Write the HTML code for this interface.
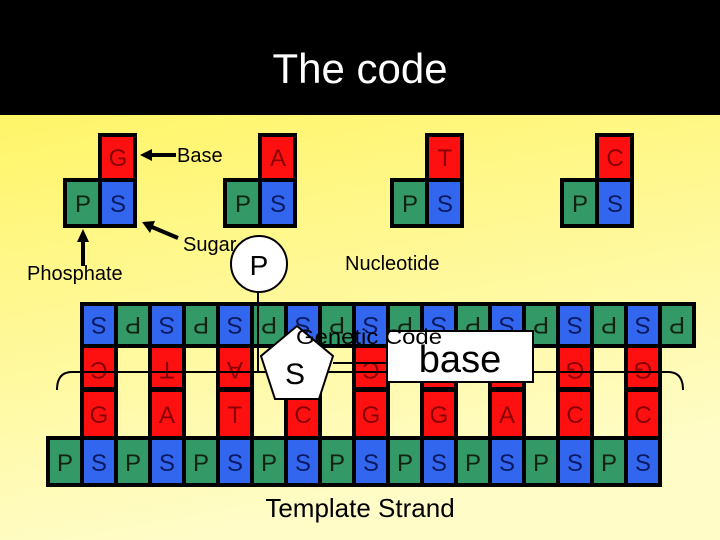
<!DOCTYPE html>
<html><head><meta charset="utf-8"><style>
html,body{margin:0;padding:0;width:720px;height:540px;overflow:hidden;}
svg text{font-family:"Liberation Sans",Arial,sans-serif;}
</style></head><body>
<svg width="720" height="540" viewBox="0 0 720 540" xmlns="http://www.w3.org/2000/svg">
<defs>
<linearGradient id="bg" x1="0" y1="0" x2="0.25" y2="1">
<stop offset="0" stop-color="#FFF350"/><stop offset="1" stop-color="#FFFCC8"/>
</linearGradient>
</defs>
<rect width="720" height="540" fill="url(#bg)"/>
<rect width="720" height="115" fill="#000"/>
<text x="360" y="83" font-size="42" fill="#fff" text-anchor="middle">The code</text>

<g font-size="24" text-anchor="middle">
<g transform="translate(63,0)">
<rect x="35" y="133" width="39" height="50" fill="#000"/><rect x="0" y="178" width="74" height="50" fill="#000"/>
<rect x="39" y="137" width="31" height="41" fill="#FF1010"/><rect x="4" y="182" width="31" height="42" fill="#339966"/><rect x="39" y="182" width="31" height="42" fill="#3366EE"/>
<text x="55" y="166" fill="#800">G</text><text x="20" y="212" fill="#112211">P</text><text x="55" y="212" fill="#0a1a60">S</text></g>
<g transform="translate(223,0)">
<rect x="35" y="133" width="39" height="50" fill="#000"/><rect x="0" y="178" width="74" height="50" fill="#000"/>
<rect x="39" y="137" width="31" height="41" fill="#FF1010"/><rect x="4" y="182" width="31" height="42" fill="#339966"/><rect x="39" y="182" width="31" height="42" fill="#3366EE"/>
<text x="55" y="166" fill="#800">A</text><text x="20" y="212" fill="#112211">P</text><text x="55" y="212" fill="#0a1a60">S</text></g>
<g transform="translate(390,0)">
<rect x="35" y="133" width="39" height="50" fill="#000"/><rect x="0" y="178" width="74" height="50" fill="#000"/>
<rect x="39" y="137" width="31" height="41" fill="#FF1010"/><rect x="4" y="182" width="31" height="42" fill="#339966"/><rect x="39" y="182" width="31" height="42" fill="#3366EE"/>
<text x="55" y="166" fill="#800">T</text><text x="20" y="212" fill="#112211">P</text><text x="55" y="212" fill="#0a1a60">S</text></g>
<g transform="translate(560,0)">
<rect x="35" y="133" width="39" height="50" fill="#000"/><rect x="0" y="178" width="74" height="50" fill="#000"/>
<rect x="39" y="137" width="31" height="41" fill="#FF1010"/><rect x="4" y="182" width="31" height="42" fill="#339966"/><rect x="39" y="182" width="31" height="42" fill="#3366EE"/>
<text x="55" y="166" fill="#800">C</text><text x="20" y="212" fill="#112211">P</text><text x="55" y="212" fill="#0a1a60">S</text></g>
</g>

<g font-size="20" fill="#000">
<text x="177" y="162">Base</text>
<text x="183" y="251">Sugar</text>
<text x="27" y="280">Phosphate</text>
<text x="345" y="270">Nucleotide</text>
</g>
<g stroke="#000" stroke-width="4" fill="#000">
<line x1="176" y1="155" x2="150" y2="155"/><polygon points="140,155 152,149 152,161" stroke="none"/>
<line x1="178" y1="238" x2="152" y2="227"/><polygon points="142,222 155,221 150,233" stroke="none"/>
<line x1="83" y1="266" x2="83" y2="240"/><polygon points="83,229 77,242 89,242" stroke="none"/>
</g>

<rect x="80" y="302" width="616" height="46" fill="#000"/>
<rect x="46" y="436" width="616" height="51" fill="#000"/>
<g>
<rect x="84" y="306" width="30" height="38" fill="#3366EE"/><rect x="118" y="306" width="30" height="38" fill="#339966"/>
<rect x="152" y="306" width="30" height="38" fill="#3366EE"/><rect x="186" y="306" width="30" height="38" fill="#339966"/>
<rect x="220" y="306" width="30" height="38" fill="#3366EE"/><rect x="254" y="306" width="30" height="38" fill="#339966"/>
<rect x="288" y="306" width="30" height="38" fill="#3366EE"/><rect x="322" y="306" width="30" height="38" fill="#339966"/>
<rect x="356" y="306" width="30" height="38" fill="#3366EE"/><rect x="390" y="306" width="30" height="38" fill="#339966"/>
<rect x="424" y="306" width="30" height="38" fill="#3366EE"/><rect x="458" y="306" width="30" height="38" fill="#339966"/>
<rect x="492" y="306" width="30" height="38" fill="#3366EE"/><rect x="526" y="306" width="30" height="38" fill="#339966"/>
<rect x="560" y="306" width="30" height="38" fill="#3366EE"/><rect x="594" y="306" width="30" height="38" fill="#339966"/>
<rect x="628" y="306" width="30" height="38" fill="#3366EE"/><rect x="662" y="306" width="30" height="38" fill="#339966"/>
</g>
<g font-size="24" text-anchor="middle">
<text x="99" y="333" fill="#0a1a60" transform="rotate(180 99 325)">S</text>
<text x="133" y="333" fill="#112211" transform="rotate(180 133 325)">P</text>
<text x="167" y="333" fill="#0a1a60" transform="rotate(180 167 325)">S</text>
<text x="201" y="333" fill="#112211" transform="rotate(180 201 325)">P</text>
<text x="235" y="333" fill="#0a1a60" transform="rotate(180 235 325)">S</text>
<text x="269" y="333" fill="#112211" transform="rotate(180 269 325)">P</text>
<text x="303" y="333" fill="#0a1a60" transform="rotate(180 303 325)">S</text>
<text x="337" y="333" fill="#112211" transform="rotate(180 337 325)">P</text>
<text x="371" y="333" fill="#0a1a60" transform="rotate(180 371 325)">S</text>
<text x="405" y="333" fill="#112211" transform="rotate(180 405 325)">P</text>
<text x="439" y="333" fill="#0a1a60" transform="rotate(180 439 325)">S</text>
<text x="473" y="333" fill="#112211" transform="rotate(180 473 325)">P</text>
<text x="507" y="333" fill="#0a1a60" transform="rotate(180 507 325)">S</text>
<text x="541" y="333" fill="#112211" transform="rotate(180 541 325)">P</text>
<text x="575" y="333" fill="#0a1a60" transform="rotate(180 575 325)">S</text>
<text x="609" y="333" fill="#112211" transform="rotate(180 609 325)">P</text>
<text x="643" y="333" fill="#0a1a60" transform="rotate(180 643 325)">S</text>
<text x="677" y="333" fill="#112211" transform="rotate(180 677 325)">P</text>
</g>

<g fill="#000">
<rect x="80" y="344" width="38" height="96"/><rect x="148" y="344" width="38" height="96"/>
<rect x="216" y="344" width="38" height="96"/><rect x="284" y="344" width="38" height="96"/>
<rect x="352" y="344" width="38" height="96"/><rect x="420" y="344" width="38" height="96"/>
<rect x="488" y="344" width="38" height="96"/><rect x="556" y="344" width="38" height="96"/>
<rect x="624" y="344" width="38" height="96"/>
</g>
<g fill="#FF1010">
<rect x="84" y="348" width="30" height="39"/><rect x="84" y="392" width="30" height="44"/>
<rect x="152" y="348" width="30" height="39"/><rect x="152" y="392" width="30" height="44"/>
<rect x="220" y="348" width="30" height="39"/><rect x="220" y="392" width="30" height="44"/>
<rect x="288" y="348" width="30" height="39"/><rect x="288" y="392" width="30" height="44"/>
<rect x="356" y="348" width="30" height="39"/><rect x="356" y="392" width="30" height="44"/>
<rect x="424" y="348" width="30" height="39"/><rect x="424" y="392" width="30" height="44"/>
<rect x="492" y="348" width="30" height="39"/><rect x="492" y="392" width="30" height="44"/>
<rect x="560" y="348" width="30" height="39"/><rect x="560" y="392" width="30" height="44"/>
<rect x="628" y="348" width="30" height="39"/><rect x="628" y="392" width="30" height="44"/>
</g>
<g font-size="24" text-anchor="middle" fill="#800">
<text x="99" y="378" transform="rotate(180 99 370)">C</text>
<text x="167" y="378" transform="rotate(180 167 370)">T</text>
<text x="235" y="378" transform="rotate(180 235 370)">A</text>
<text x="371" y="378" transform="rotate(180 371 370)">C</text>
<text x="575" y="378" transform="rotate(180 575 370)">G</text>
<text x="643" y="378" transform="rotate(180 643 370)">G</text>
<text x="99" y="423">G</text><text x="167" y="423">A</text><text x="235" y="423">T</text>
<text x="303" y="423">C</text><text x="371" y="423">G</text><text x="439" y="423">G</text>
<text x="507" y="423">A</text><text x="575" y="423">C</text><text x="643" y="423">C</text>
</g>

<g>
<rect x="50" y="440" width="30" height="43" fill="#339966"/><rect x="84" y="440" width="30" height="43" fill="#3366EE"/>
<rect x="118" y="440" width="30" height="43" fill="#339966"/><rect x="152" y="440" width="30" height="43" fill="#3366EE"/>
<rect x="186" y="440" width="30" height="43" fill="#339966"/><rect x="220" y="440" width="30" height="43" fill="#3366EE"/>
<rect x="254" y="440" width="30" height="43" fill="#339966"/><rect x="288" y="440" width="30" height="43" fill="#3366EE"/>
<rect x="322" y="440" width="30" height="43" fill="#339966"/><rect x="356" y="440" width="30" height="43" fill="#3366EE"/>
<rect x="390" y="440" width="30" height="43" fill="#339966"/><rect x="424" y="440" width="30" height="43" fill="#3366EE"/>
<rect x="458" y="440" width="30" height="43" fill="#339966"/><rect x="492" y="440" width="30" height="43" fill="#3366EE"/>
<rect x="526" y="440" width="30" height="43" fill="#339966"/><rect x="560" y="440" width="30" height="43" fill="#3366EE"/>
<rect x="594" y="440" width="30" height="43" fill="#339966"/><rect x="628" y="440" width="30" height="43" fill="#3366EE"/>
</g>
<g font-size="24" text-anchor="middle">
<text x="65" y="471" fill="#112211">P</text><text x="99" y="471" fill="#0a1a60">S</text>
<text x="133" y="471" fill="#112211">P</text><text x="167" y="471" fill="#0a1a60">S</text>
<text x="201" y="471" fill="#112211">P</text><text x="235" y="471" fill="#0a1a60">S</text>
<text x="269" y="471" fill="#112211">P</text><text x="303" y="471" fill="#0a1a60">S</text>
<text x="337" y="471" fill="#112211">P</text><text x="371" y="471" fill="#0a1a60">S</text>
<text x="405" y="471" fill="#112211">P</text><text x="439" y="471" fill="#0a1a60">S</text>
<text x="473" y="471" fill="#112211">P</text><text x="507" y="471" fill="#0a1a60">S</text>
<text x="541" y="471" fill="#112211">P</text><text x="575" y="471" fill="#0a1a60">S</text>
<text x="609" y="471" fill="#112211">P</text><text x="643" y="471" fill="#0a1a60">S</text>
</g>

<path d="M57,390 Q57,372 72,372 L668,372 Q683,372 683,390" fill="none" stroke="#000" stroke-width="2"/>

<line x1="258" y1="290" x2="258" y2="372" stroke="#000" stroke-width="2"/>
<circle cx="259" cy="264" r="28" fill="#fff" stroke="#000" stroke-width="2"/>
<text x="259" y="275" font-size="28" text-anchor="middle">P</text>
<polygon points="297,326 261,356 275,399 319,399 333,356" fill="#fff" stroke="#000" stroke-width="2"/>
<text x="295" y="384" font-size="30" text-anchor="middle">S</text>
<line x1="333" y1="363" x2="388" y2="363" stroke="#000" stroke-width="2"/>
<rect x="387" y="331" width="146" height="51" fill="#fff" stroke="#000" stroke-width="2"/>
<text x="460" y="372" font-size="38" text-anchor="middle">base</text>
<text x="296" y="344" font-size="21" textLength="146" lengthAdjust="spacingAndGlyphs">Genetic Code</text>

<text x="360" y="517" font-size="26" text-anchor="middle">Template Strand</text>
</svg>
</body></html>
